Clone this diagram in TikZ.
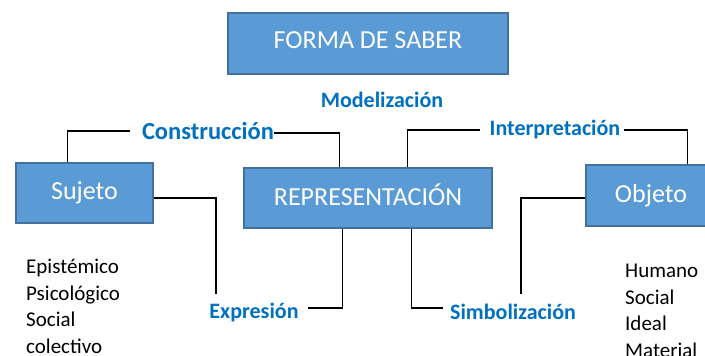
\documentclass[tikz,border=0pt]{standalone}
\usepackage{fontspec}
\setmainfont{Carlito}
\definecolor{boxfill}{HTML}{5B9BD5}
\definecolor{boxline}{HTML}{41719C}
\definecolor{lblue}{HTML}{0070C0}
\begin{document}
\begin{tikzpicture}[x=1pt,y=-1pt,
  box/.style={rectangle,fill=boxfill,draw=boxline,line width=1.2pt,text=white,inner sep=0pt,
    font=\fontsize{26}{30}\selectfont},
  lbl/.style={inner sep=0pt,text=lblue,font=\bfseries\fontsize{22}{26}\selectfont},
  lst/.style={inner sep=0pt,align=left,anchor=west,font=\fontsize{21}{26.5}\selectfont},
  conn/.style={line width=1.8pt,black}]
\useasboundingbox (0,0) rectangle (705,356);
% boxes
\node[box,minimum width=280pt,minimum height=61pt] (forma) at (368,43.5) {\raisebox{6pt}{FORMA DE SABER}};
\node[box,minimum width=137pt,minimum height=60pt] (suj) at (84.5,193) {\raisebox{2pt}{Sujeto}};
\node[box,minimum width=248pt,minimum height=60pt] (rep) at (368,198) {\raisebox{6pt}{REPRESENTACIÓN}};
\node[box,minimum width=130pt,minimum height=61pt] (obj) at (651,195.5) {\raisebox{4pt}{Objeto}};
% labels
\node[lbl] (mod) at (382,100) {Modelización};
\node[lbl,font=\bfseries\fontsize{24.5}{28}\selectfont] (con) at (208,131) {Construcción};
\node[lbl] (int) at (555,130) {Interpretación};
\node[lbl] (exp) at (254,313) {Expresión};
\node[lbl] (sim) at (513,312) {Simbolización};
% lists
\node[lst,anchor=north west] (left) at (26,259) {Epistémico\\Psicológico\\Social\\colectivo};
\node[lst,anchor=north west] (right) at (625,264) {Humano\\Social\\Ideal\\Material};
% free ends
\coordinate (e1) at (216,294);
\coordinate (e2) at (308,308);
\coordinate (e3) at (443,308);
\coordinate (e4) at (521,294);
% connectors
\draw[conn] ([xshift=-12pt]con.west) -| ([xshift=52pt]suj.north west);
\draw[conn] ([yshift=-2pt]con.east) -| ([xshift=96pt]rep.north west);
\draw[conn] ([xshift=-10pt]int.west) -| ([xshift=164pt]rep.north west);
\draw[conn] ([xshift=4pt]int.east) -| ([xshift=102pt]obj.north west);
\draw[conn] ([yshift=-5pt]suj.east) -| (e1);
\draw[conn] ([xshift=99pt]rep.south west) |- (e2);
\draw[conn] ([xshift=168pt]rep.south west) |- (e3);
\draw[conn] ([yshift=-2.5pt]obj.west) -| (e4);
\end{tikzpicture}
\end{document}
